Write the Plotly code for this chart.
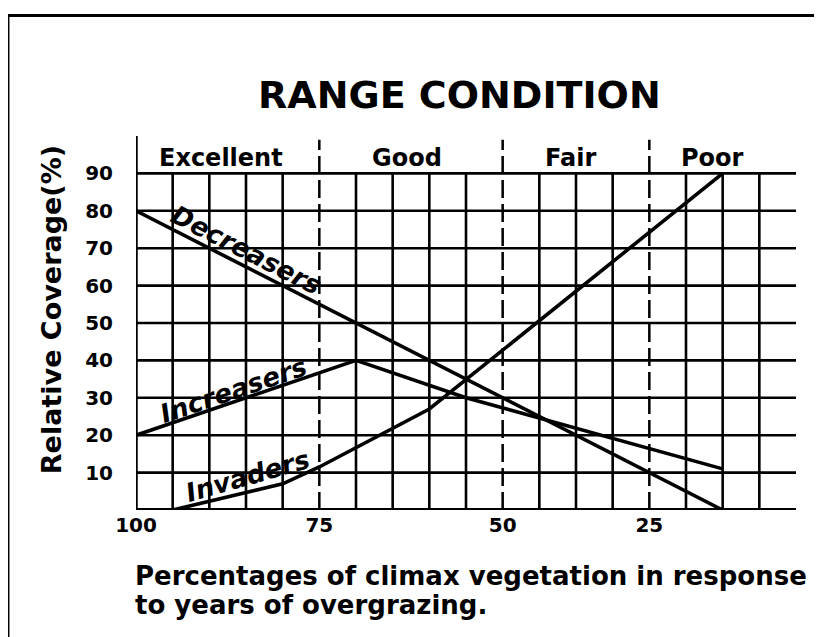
import plotly.graph_objects as go

# ---------------- data ----------------
# x is measured in grid cells of the original chart; the tick labels give the
# percentage of climax vegetation that each position stands for.
x_tick_vals = [0, 5, 10, 14]
x_tick_text = ["100", "75", "50", "25"]
y_tick_vals = [10, 20, 30, 40, 50, 60, 70, 80, 90]
y_tick_text = ["10", "20", "30", "40", "50", "60", "70", "80", "90"]

decreasers_x = [0, 16]
decreasers_y = [80, 0]
increasers_x = [0, 6, 9, 16]
increasers_y = [20, 40, 30, 11]
invaders_x = [1, 4, 5, 8, 16]
invaders_y = [0, 7, 11.5, 27, 90]

regions = ["Excellent", "Good", "Fair", "Poor"]
region_x = [2.32, 7.39, 11.84, 15.71]
region_bounds = [5, 10, 14]
grid_cols = list(range(1, 18))
x_max = 18
y_max = 100

FONT = "DejaVu Sans"
BLACK = "#000000"

fig = go.Figure()

for xs, ys, name in [(decreasers_x, decreasers_y, "Decreasers"),
                     (increasers_x, increasers_y, "Increasers"),
                     (invaders_x, invaders_y, "Invaders")]:
    fig.add_trace(go.Scatter(x=xs, y=ys, mode="lines", name=name,
                             line=dict(color=BLACK, width=3.6),
                             showlegend=False, hoverinfo="skip"))

shapes = []
# horizontal grid lines
for v in y_tick_vals:
    shapes.append(dict(type="line", xref="x", yref="y", x0=0, x1=x_max, y0=v, y1=v,
                       line=dict(color=BLACK, width=2.6), layer="below"))
# vertical grid lines
for c in grid_cols:
    if c in region_bounds:
        shapes.append(dict(type="line", xref="x", yref="y", x0=c, x1=c, y0=0, y1=99,
                           line=dict(color=BLACK, width=2.5, dash="18px,6px"), layer="below"))
    else:
        shapes.append(dict(type="line", xref="x", yref="y", x0=c, x1=c, y0=0, y1=90,
                           line=dict(color=BLACK, width=2.6), layer="below"))
# axes lines
shapes.append(dict(type="line", xref="x", yref="y", x0=0, x1=0, y0=0, y1=y_max,
                   line=dict(color=BLACK, width=3.5)))
shapes.append(dict(type="line", xref="x", yref="y", x0=0, x1=x_max + 0.1, y0=0, y1=0,
                   line=dict(color=BLACK, width=4)))
# frame (top and left edges)
shapes.append(dict(type="line", xref="paper", yref="paper", x0=-0.194, x1=1.06,
                   y0=1.322, y1=1.322, line=dict(color=BLACK, width=3)))
shapes.append(dict(type="line", xref="paper", yref="paper", x0=-0.194, x1=-0.194,
                   y0=1.322, y1=-0.36, line=dict(color=BLACK, width=3)))

annotations = []
# title
annotations.append(dict(text="RANGE CONDITION", xref="paper", yref="paper",
                        x=0.4894, y=1.1084, xanchor="center", yanchor="middle",
                        showarrow=False,
                        font=dict(family=FONT, size=38, color=BLACK, weight="bold")))
# region labels
for name, rx in zip(regions, region_x):
    annotations.append(dict(text=name, xref="x", yref="y", x=rx, y=94.2,
                            xanchor="center", yanchor="middle", showarrow=False,
                            font=dict(family=FONT, size=24, color=BLACK, weight="bold")))
# curve labels
for text, lx, ly, ang in [("Decreasers", 3.0, 69.4, 27.0),
                          ("Increasers", 2.67, 32.0, -18.8),
                          ("Invaders", 3.05, 9.1, -16.0)]:
    annotations.append(dict(text=text, xref="x", yref="y", x=lx, y=ly,
                            xanchor="center", yanchor="middle", textangle=ang,
                            showarrow=False,
                            font=dict(family=FONT, size=26, color=BLACK,
                                      weight="bold", style="italic")))
# y-axis title
annotations.append(dict(text="Relative Coverage(%)", xref="paper", yref="paper",
                        x=-0.1288, y=0.5369, xanchor="center", yanchor="middle",
                        textangle=-90, showarrow=False,
                        font=dict(family=FONT, size=27, color=BLACK, weight="bold")))
# x-axis caption (two lines)
annotations.append(dict(text="Percentages of climax vegetation in response",
                        xref="paper", yref="paper", x=-0.004, y=-0.1763,
                        xanchor="left", yanchor="middle", showarrow=False,
                        font=dict(family=FONT, size=26, color=BLACK, weight="bold")))
annotations.append(dict(text="to years of overgrazing.",
                        xref="paper", yref="paper", x=-0.004, y=-0.2537,
                        xanchor="left", yanchor="middle", showarrow=False,
                        font=dict(family=FONT, size=26, color=BLACK, weight="bold")))

# The page body has an 8px default margin, so the figure is drawn 8px smaller
# with margins shifted to keep the plot area where the reference has it.
fig.update_layout(
    width=814, height=629, autosize=False,
    margin=dict(l=128, r=26, t=128, b=127, pad=0),
    paper_bgcolor="white", plot_bgcolor="white",
    shapes=shapes, annotations=annotations,
    xaxis=dict(range=[0, x_max], showgrid=False, zeroline=False, showline=False,
               tickvals=x_tick_vals, ticktext=x_tick_text, ticks="",
               ticklabelstandoff=1,
               tickfont=dict(family=FONT, size=20, color=BLACK, weight="bold"),
               fixedrange=True),
    yaxis=dict(range=[0, y_max], showgrid=False, zeroline=False, showline=False,
               tickvals=y_tick_vals, ticktext=y_tick_text, ticks="",
               ticklabelstandoff=22,
               tickfont=dict(family=FONT, size=20, color=BLACK, weight="bold"),
               fixedrange=True),
)

fig.write_html("out.html")
